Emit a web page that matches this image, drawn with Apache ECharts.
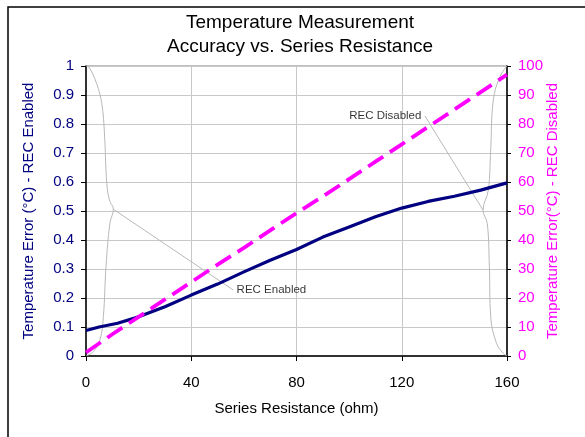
<!DOCTYPE html>
<html>
<head>
<meta charset="utf-8">
<script src="https://cdn.jsdelivr.net/npm/echarts@6/dist/echarts.min.js"></script>
<style>
  html, body { margin: 0; padding: 0; background: #fff; }
  #chart { width: 585px; height: 437px; }
</style>
</head>
<body>
<div id="chart"></div>
<script type="application/javascript">
// series resistance (ohm) and temperature error readings
const enabledX = [0, 5, 12, 20, 30, 40, 50, 60, 70, 80, 90, 100, 110, 120, 130, 140, 150, 160];
const enabledY = [0.088, 0.100, 0.113, 0.135, 0.170, 0.210, 0.248, 0.290, 0.330, 0.367, 0.410, 0.445, 0.480, 0.510, 0.533, 0.551, 0.572, 0.597];
const disabledX = [0, 10, 20, 30, 40, 50, 60, 70, 80, 90, 100, 110, 120, 130, 140, 150, 160];
const disabledY = [1.2, 7.5, 13.5, 19.5, 25.5, 31.5, 37.3, 43.3, 49.3, 55, 61, 67, 73, 79, 85, 91, 97];
const xTicks = [0, 40, 80, 120, 160];

// gray callout shapes (in left-axis units)
const braceLeftX = [0, 0.9, 4, 6, 7, 7.9, 8.9, 10.4, 9.1, 7.6, 6.6, 5.3, 2.8, 0];
const braceLeftY = [1, 0.998, 0.94, 0.87, 0.77, 0.595, 0.538, 0.506, 0.459, 0.308, 0.136, 0.055, 0.015, 0];
const braceRightX = [160, 157.3, 154.8, 153.8, 152.9, 150.9, 152.5, 153.3, 153.8, 156, 158.6, 160];
const braceRightY = [1, 0.963, 0.883, 0.71, 0.572, 0.503, 0.457, 0.308, 0.136, 0.044, 0.009, 0];
const leaderEnabled = [[10.4, 0.506], [55.9, 0.228]];
const leaderDisabled = [[150.9, 0.503], [128.8, 0.828]];
const calloutText = ['REC Enabled', 'REC Disabled'];

const NAVY = '#000080';
const PINK = '#ff00ff';
const FONT = 'Liberation Sans, Arial, sans-serif';

function pairs(xs, ys) {
  return xs.map((x, i) => [x, ys[i]]);
}

function grayLine(data, smooth) {
  return {
    type: 'line',
    data,
    smooth,
    symbol: 'none',
    silent: true,
    z: 1,
    lineStyle: { color: '#b8b8b8', width: 1 }
  };
}

function callout(point, text, side) {
  return {
    type: 'scatter',
    data: [point],
    symbolSize: 1,
    silent: true,
    itemStyle: { color: 'rgba(0,0,0,0)' },
    label: {
      show: true,
      position: side,
      distance: 3,
      formatter: text,
      color: '#000',
      fontSize: 11.5,
      fontFamily: FONT
    }
  };
}

const chart = echarts.init(document.getElementById('chart'));

const option = {
  animation: false,
  textStyle: { fontFamily: FONT },
  title: {
    text: 'Temperature Measurement\nAccuracy vs. Series Resistance',
    left: 295,
    top: 6,
    textAlign: 'center',
    textStyle: { fontSize: 19, fontWeight: 'normal', color: '#000', lineHeight: 24, fontFamily: FONT }
  },
  graphic: [{
    type: 'rect',
    shape: { x: 8, y: 7, width: 600, height: 460 },
    style: { fill: 'none', stroke: '#000', lineWidth: 1.5 },
    silent: true
  }],
  grid: { left: 86, right: 78, top: 66, bottom: 81, show: true, borderColor: '#808080', borderWidth: 1 },
  xAxis: {
    type: 'value',
    min: 0,
    max: 160,
    interval: 40,
    name: 'Series Resistance (ohm)',
    nameLocation: 'middle',
    nameGap: 45,
    nameTextStyle: { fontSize: 15, color: '#000', fontFamily: FONT },
    axisLine: { onZero: false, lineStyle: { color: '#000', width: 1.5 } },
    axisTick: { length: 5, lineStyle: { color: '#000' } },
    axisLabel: { fontSize: 15, color: '#000', margin: 19, formatter: v => xTicks.includes(v) ? String(v) : '' },
    splitLine: { show: true, lineStyle: { color: '#c8c8c8', width: 1 } }
  },
  yAxis: [{
    type: 'value',
    min: 0,
    max: 1,
    interval: 0.1,
    name: 'Temperature Error (°C) - REC Enabled',
    nameLocation: 'middle',
    nameGap: 50,
    nameTextStyle: { fontSize: 15, color: NAVY, fontFamily: FONT },
    axisLine: { show: true, lineStyle: { color: '#000', width: 1.5 } },
    axisTick: { show: true, length: 5, lineStyle: { color: '#000' } },
    axisLabel: { fontSize: 15, color: NAVY, margin: 12 },
    splitLine: { show: true, lineStyle: { color: '#c8c8c8', width: 1 } }
  }, {
    type: 'value',
    position: 'right',
    min: 0,
    max: 100,
    interval: 10,
    name: 'Temperature Error(°C) - REC Disabled',
    nameLocation: 'middle',
    nameGap: 38,
    nameMoveOverlap: false,
    nameTextStyle: { fontSize: 15, color: PINK, fontFamily: FONT },
    axisLine: { show: true, lineStyle: { color: '#000', width: 1.5 } },
    axisTick: { show: true, length: 4, lineStyle: { color: '#000' } },
    axisLabel: { fontSize: 15, color: PINK, margin: 11 },
    splitLine: { show: false }
  }],
  series: [
    grayLine(pairs(braceLeftX, braceLeftY), 0.4),
    grayLine(pairs(braceRightX, braceRightY), 0.4),
    grayLine(leaderEnabled, false),
    grayLine(leaderDisabled, false),
    callout(leaderEnabled[1], calloutText[0], 'right'),
    callout(leaderDisabled[1], calloutText[1], 'left'),
    {
      name: 'REC Enabled',
      type: 'line',
      yAxisIndex: 0,
      data: pairs(enabledX, enabledY),
      symbol: 'none',
      z: 3,
      lineStyle: { color: NAVY, width: 3.2 }
    },
    {
      name: 'REC Disabled',
      type: 'line',
      yAxisIndex: 1,
      data: pairs(disabledX, disabledY),
      symbol: 'none',
      z: 4,
      lineStyle: { color: PINK, width: 3.8, type: [18, 8] }
    }
  ]
};

chart.setOption(option);
</script>
</body>
</html>
